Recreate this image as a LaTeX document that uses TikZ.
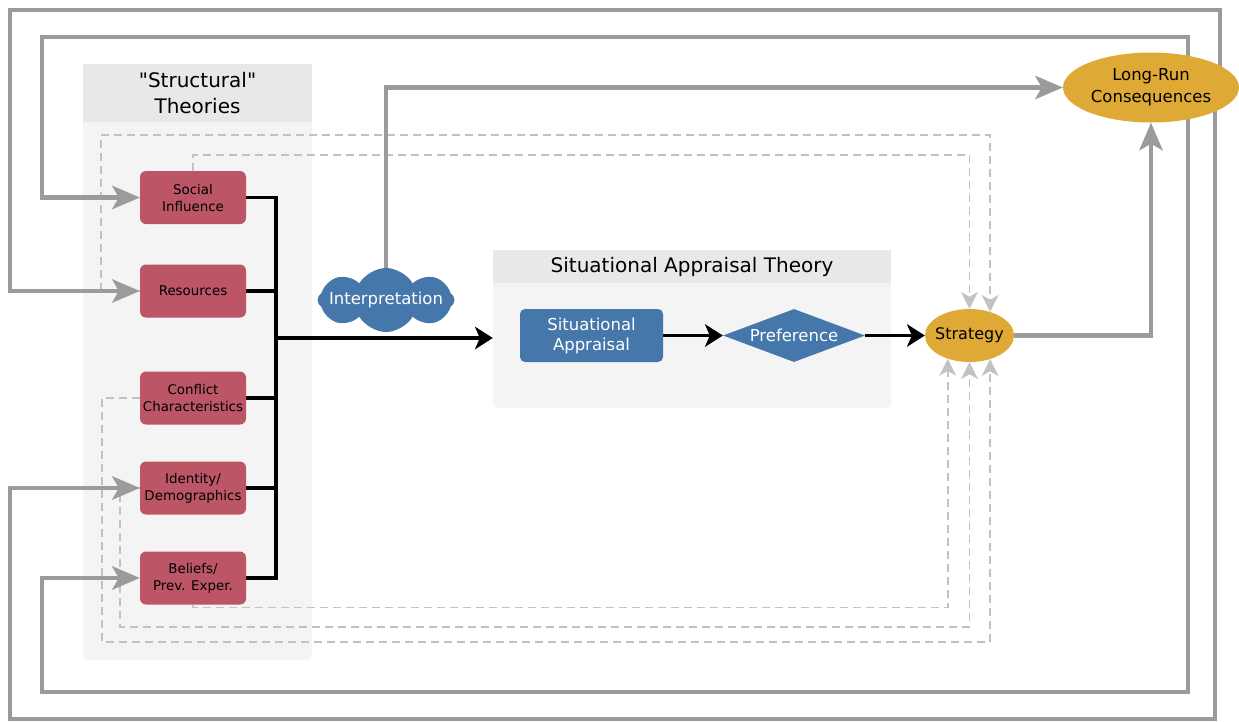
\documentclass[tikz,border=0pt]{standalone}
\usepackage{fontspec}
\setmainfont{DejaVu Sans}
\usetikzlibrary{arrows.meta,shapes.geometric,shapes.symbols}
\definecolor{redc}{HTML}{BC5566}
\definecolor{bluec}{HTML}{4677AA}
\definecolor{goldc}{HTML}{DEAA35}
\definecolor{hdrc}{HTML}{E8E8E8}
\definecolor{panelc}{HTML}{F4F4F4}
\definecolor{loopc}{HTML}{9B9B9B}
\definecolor{dashc}{HTML}{C2C2C2}
\newcommand\myfs[2]{\fontsize{#1}{#2}\selectfont}
\pgfdeclarelayer{bg}
\pgfdeclarelayer{lines}
\pgfsetlayers{bg,lines,main}
\begin{document}
\begin{tikzpicture}[x=1pt,y=-1pt,
  loopln/.style={draw=loopc, line width=4.5pt, -{Stealth[length=28pt,width=24pt,inset=7pt,line width=0pt]}},
  blkln/.style={draw=black, line width=3.2pt},
  blkarr/.style={blkln, -{Stealth[length=18pt,width=23pt,inset=5pt,line width=0pt]}},
  dashln/.style={draw=dashc, line width=1.5pt, dash pattern=on 8pt off 5pt, -{Stealth[length=17pt,width=17pt,inset=5pt,line width=0pt]}},
  panel/.style={fill=panelc, rounded corners=6pt, inner sep=0},
  hdr/.style={fill=hdrc, inner sep=0, align=center},
  redbox/.style={fill=redc, rounded corners=6pt, minimum width=106pt, minimum height=53pt, inner sep=0, align=center, font=\myfs{13.4}{17}},
  bluebox/.style={fill=bluec, rounded corners=5pt, minimum width=143pt, minimum height=53pt, inner sep=0, align=center, text=white, font=\myfs{16.5}{20}},
  golden/.style={ellipse, fill=goldc, align=center},
]
\useasboundingbox (0,0) rectangle (1239,721);

\begin{pgfonlayer}{bg}
  \node[panel, minimum width=229pt, minimum height=596pt] (stp) at (197.5,362) {};
  \node[hdr, minimum width=229pt, minimum height=58pt, font=\myfs{20}{26}] (sth) at (197.5,93) {\textquotedbl Structural\textquotedbl\\Theories};
  \node[panel, minimum width=398pt, minimum height=158pt] (satp) at (692,329) {};
  \node[hdr, minimum width=398pt, minimum height=33pt, font=\myfs{20}{24}] (sath) at (692,266.5) {Situational Appraisal Theory};
\end{pgfonlayer}

% nodes
\node[redbox] (si) at (193,197.5) {Social\\Influence};
\node[redbox] (res) at (193,291) {Resources};
\node[redbox] (cc) at (193,398) {Conflict\\Characteristics};
\node[redbox] (id) at (193,488) {Identity/\\Demographics};
\node[redbox] (bp) at (193,578) {Beliefs/\\Prev. Exper.};

\node[cloud, cloud puffs=8, cloud puff arc=120, aspect=2.2, fill=bluec, minimum width=137pt, minimum height=64pt, inner sep=0,
  label={[text=white, font=\myfs{16.5}{20}]center:Interpretation}] (interp) at (386,300) {};

\node[bluebox] (sa) at (591.5,335.5) {\raisebox{0pt}[0pt][0pt]{}Situational\\Appraisal};
\node[diamond, fill=bluec, aspect=2.68, minimum width=142pt, minimum height=53pt, inner sep=0, text=white, font=\myfs{16.5}{20}] (pref) at (794,335.5) {Preference};
\node[golden, minimum width=89pt, minimum height=53pt, inner xsep=-6pt, inner ysep=0pt, font=\myfs{16}{20}] (strat) at (969.5,335.5) {Strategy};
\node[golden, minimum width=176pt, minimum height=70pt, inner sep=0pt, font=\myfs{16.5}{22}] (lrc) at (1151,87.5) {Long-Run\\Consequences};

\coordinate (bus) at (276,338);
\coordinate (s1) at (strat.49);
\coordinate (s3) at (strat.-49);
\coordinate (s5) at (strat.-133);

\begin{pgfonlayer}{lines}
  % dashed influences
  \draw[dashln] (si.north) -- ++(0,-16) -| (strat.north);
  \draw[dashln] (res.west) -| (101,135) -| (s1);
  \draw[dashln] (cc.west) -| (102,642) -| (s3);
  \draw[dashln] (id.west) -| (120,627) -| (strat.south);
  \draw[dashln] (bp.south) -- ++(0,3) -| (s5);
  % black bus
  \draw[blkln] (si.east) -| (bp.east -| bus) -- (bp.east);
  \draw[blkln] (res.east) -- (res.east -| bus);
  \draw[blkln] (cc.east) -- (cc.east -| bus);
  \draw[blkln] (id.east) -- (id.east -| bus);
  \draw[blkarr] (bus) -- (bus -| satp.west);
  \draw[blkarr] (sa) -- (pref);
  \draw[blkarr] (pref) -- (strat);
  % gray feedback loops
  \draw[loopln] (lrc.center) ++(69,0) |- (10,10) |- (res.west);
  \draw[loopln] (lrc.center) ++(37,0) |- (42,37) |- (si.west);
  \draw[loopln] (lrc.center) ++(37,0) |- (42,692) |- (bp.west);
  \draw[loopln] (lrc.center) ++(64,0) |- (10,719) |- (id.west);
  \draw[loopln] (interp.north) |- (lrc.west);
  \draw[loopln] (strat.east) -| (lrc.south);
\end{pgfonlayer}
\end{tikzpicture}
\end{document}
